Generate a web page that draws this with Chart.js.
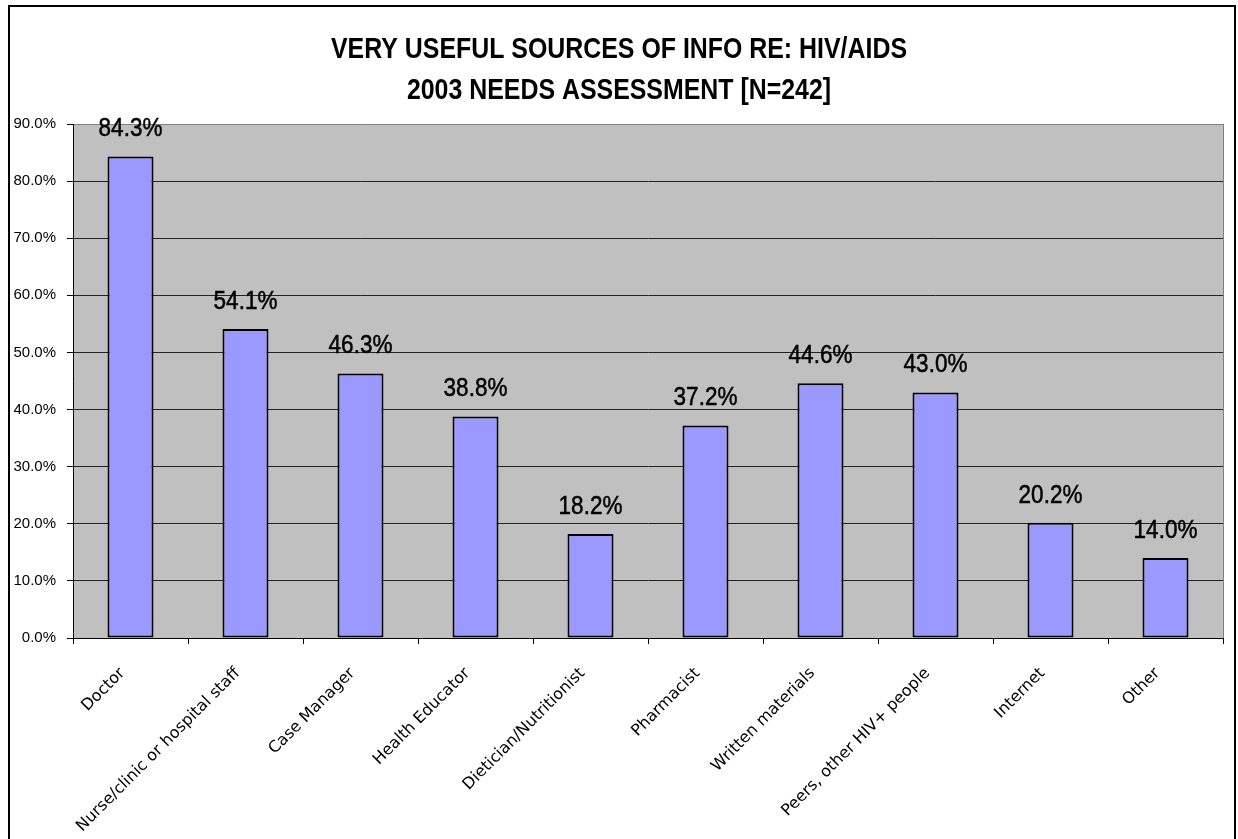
<!DOCTYPE html>
<html>
<head>
<meta charset="utf-8">
<title>Very useful sources of info re: HIV/AIDS</title>
<script src="https://cdn.jsdelivr.net/npm/chart.js@4/dist/chart.umd.min.js"></script>
<style>
  html, body { margin: 0; padding: 0; background: #fff; }
  #wrap { width: 1238px; height: 839px; position: relative; }
</style>
</head>
<body>
<div id="wrap"><canvas id="chart" width="1238" height="839"></canvas></div>
<script>
// Survey categories and share of respondents rating each source "very useful" (%)
const categories = [
  'Doctor',
  'Nurse/clinic or hospital staff',
  'Case Manager',
  'Health Educator',
  'Dietician/Nutritionist',
  'Pharmacist',
  'Written materials',
  'Peers, other HIV+ people',
  'Internet',
  'Other'
];
const percentValues = [84.3, 54.1, 46.3, 38.8, 18.2, 37.2, 44.6, 43.0, 20.2, 14.0];

// Value axis range and step
const yMin = 0;
const yMax = 90;
const yStep = 10;

// Title lines
const titleLines = [
  'VERY USEFUL SOURCES OF INFO RE: HIV/AIDS',
  '2003 NEEDS ASSESSMENT [N=242]'
];

const NARROW = "'Liberation Sans Narrow', 'Arial Narrow', 'Liberation Sans', sans-serif";
const SANS = "'Liberation Sans', Arial, sans-serif";
const PLOT_BG = '#C0C0C0';
const BAR_FILL = '#9999FF';

const pct = v => Number(v).toFixed(1) + '%';

// Frame, grey plot background, right plot edge and the two-line title
const framePlugin = {
  id: 'framePlugin',
  beforeDraw(chart) {
    const { ctx, chartArea: a, width, height } = chart;
    ctx.save();
    ctx.fillStyle = '#fff';
    ctx.fillRect(0, 0, width, height);
    ctx.fillStyle = PLOT_BG;
    ctx.fillRect(a.left, a.top, a.right - a.left, a.bottom - a.top);
    ctx.strokeStyle = '#000';
    ctx.lineWidth = 2;
    ctx.strokeRect(9, 6, 1226, 900);
    ctx.restore();
  },
  afterDraw(chart) {
    const { ctx, chartArea: a } = chart;
    ctx.save();
    ctx.strokeStyle = '#808080';
    ctx.lineWidth = 1;
    ctx.beginPath();
    ctx.moveTo(Math.round(a.right) + 0.5, a.top);
    ctx.lineTo(Math.round(a.right) + 0.5, a.bottom);
    ctx.stroke();

    // condensed bold title, centred on the chart
    ctx.fillStyle = '#000';
    ctx.textAlign = 'center';
    ctx.textBaseline = 'alphabetic';
    ctx.font = 'bold 30px ' + SANS;
    const cx = 619;
    const baselines = [58, 99];
    titleLines.forEach((line, i) => {
      ctx.save();
      ctx.translate(cx, baselines[i]);
      ctx.scale(0.83, 1);
      ctx.fillText(line, 0, 0);
      ctx.restore();
    });
    ctx.restore();
  }
};

// Value labels above each bar
const valueLabelPlugin = {
  id: 'valueLabelPlugin',
  afterDatasetsDraw(chart) {
    const { ctx } = chart;
    const meta = chart.getDatasetMeta(0);
    const data = chart.data.datasets[0].data;
    ctx.save();
    ctx.fillStyle = '#000';
    ctx.strokeStyle = '#000';
    ctx.lineWidth = 0.5;
    ctx.textAlign = 'center';
    ctx.textBaseline = 'middle';
    ctx.font = '25px ' + NARROW;
    meta.data.forEach((bar, i) => {
      ctx.save();
      ctx.translate(bar.x, bar.y - 27);
      ctx.scale(0.9, 1);
      ctx.fillText(pct(data[i]), 0, 0);
      ctx.strokeText(pct(data[i]), 0, 0);
      ctx.restore();
    });
    ctx.restore();
  }
};

new Chart(document.getElementById('chart'), {
  type: 'bar',
  data: {
    labels: categories,
    datasets: [{
      data: percentValues,
      backgroundColor: BAR_FILL,
      borderColor: '#000',
      borderWidth: 2,
      borderSkipped: false,
      categoryPercentage: 1.0,
      barPercentage: 0.4
    }]
  },
  options: {
    responsive: false,
    animation: false,
    devicePixelRatio: 1,
    layout: { padding: { top: 124, right: 15, bottom: 0, left: 0 } },
    plugins: {
      legend: { display: false },
      title: { display: false },
      tooltip: { enabled: false }
    },
    scales: {
      x: {
        offset: true,
        grid: {
          offset: true,
          drawOnChartArea: false,
          drawTicks: true,
          tickLength: 6,
          tickColor: '#000'
        },
        border: { color: '#000', width: 1 },
        ticks: {
          autoSkip: false,
          minRotation: 45,
          maxRotation: 45,
          padding: 20,
          labelOffset: -8,
          color: '#000',
          font: { family: "'DejaVu Sans', sans-serif", size: 16 }
        },
        afterFit(scale) { scale.height = 839 - 638; }
      },
      y: {
        min: yMin,
        max: yMax,
        ticks: {
          stepSize: yStep,
          padding: 11,
          color: '#000',
          font: { family: NARROW, size: 15 },
          callback: v => pct(v)
        },
        grid: {
          color: ctx => (ctx.tick && ctx.tick.value === yMax) ? '#808080' : '#222',
          lineWidth: 1,
          tickLength: 6,
          tickColor: '#000'
        },
        border: { color: '#000', width: 1 },
        afterFit(scale) { scale.width = 73; }
      }
    }
  },
  plugins: [framePlugin, valueLabelPlugin]
});
</script>
</body>
</html>
